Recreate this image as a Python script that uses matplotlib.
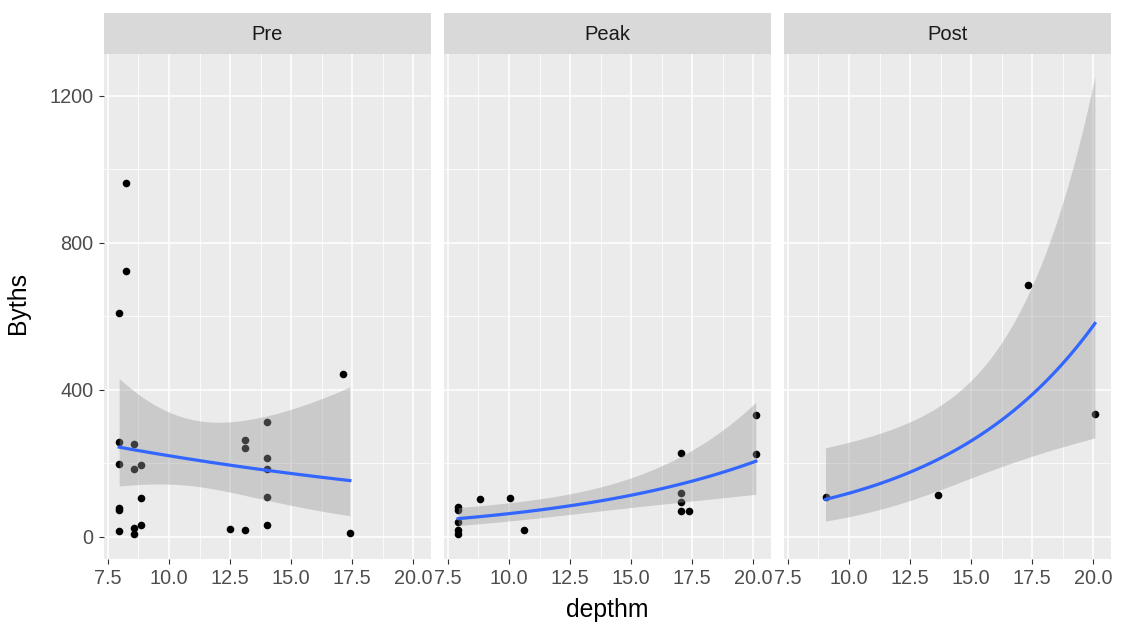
import math
import numpy as np
import matplotlib.pyplot as plt

plt.rcParams['font.family'] = ['Liberation Sans', 'DejaVu Sans']

periods = ["Pre", "Peak", "Post"]

pre_depth = [8.25, 8.25, 7.96, 17.1, 7.96, 8.58, 13.1, 13.1, 14.03, 14.03, 14.03,
             7.96, 8.58, 8.86, 8.86, 14.03, 7.96, 7.96, 7.96, 8.58, 8.58, 8.86,
             12.5, 13.1, 14.03, 17.4]
pre_byths = [962, 723, 609, 443, 258, 253, 264, 241, 312, 214, 185,
             199, 184, 196, 105, 108, 78, 72, 15, 24, 7, 31,
             21, 19, 31, 10]

peak_depth = [7.92, 7.92, 7.92, 7.92, 7.92, 8.82, 10.05, 10.63, 17.02, 17.02,
              17.02, 17.02, 17.35, 20.1, 20.1]
peak_byths = [81, 72, 40, 17, 8, 103, 105, 18, 228, 119, 94, 70, 70, 331, 225]

post_depth = [9.04, 13.66, 17.31, 20.06]
post_byths = [108, 113, 685, 334]

data = {"Pre": (pre_depth, pre_byths),
        "Peak": (peak_depth, peak_byths),
        "Post": (post_depth, post_byths)}


def irls(X, y, theta, beta):
    for _ in range(200):
        eta = X @ beta
        mu = np.exp(eta)
        w = mu / (1 + mu / theta)
        z = eta + (y - mu) / mu
        XtW = X.T * w
        new = np.linalg.solve(XtW @ X, XtW @ z)
        if np.max(np.abs(new - beta)) < 1e-10:
            return new
        beta = new
    return beta


def nb_loglik(y, mu, theta):
    return sum(math.lgamma(theta + yi) - math.lgamma(theta) - math.lgamma(yi + 1)
               + theta * math.log(theta) + yi * math.log(m)
               - (theta + yi) * math.log(theta + m) for yi, m in zip(y, mu))


def theta_ml(y, mu):
    # golden section search on log(theta)
    a, b = -6.0, 12.0
    g = (math.sqrt(5) - 1) / 2
    c, d = b - g * (b - a), a + g * (b - a)
    for _ in range(120):
        if nb_loglik(y, mu, math.exp(c)) > nb_loglik(y, mu, math.exp(d)):
            b = d
        else:
            a = c
        c, d = b - g * (b - a), a + g * (b - a)
    return math.exp((a + b) / 2)


def nb_smooth(x, y, n_out=80):
    # negative binomial glm with log link, as in geom_smooth(method = glm.nb)
    x = np.asarray(x, float)
    y = np.asarray(y, float)
    X = np.column_stack([np.ones_like(x), x])
    beta = np.array([np.log(y.mean()), 0.0])
    theta = 1.0
    for _ in range(50):
        beta = irls(X, y, theta, beta)
        mu = np.exp(X @ beta)
        new_theta = theta_ml(y, mu)
        if abs(new_theta - theta) < 1e-7:
            theta = new_theta
            break
        theta = new_theta
    beta = irls(X, y, theta, beta)
    mu = np.exp(X @ beta)
    w = mu / (1 + mu / theta)
    cov = np.linalg.inv((X.T * w) @ X)
    xs = np.linspace(x.min(), x.max(), n_out)
    Xs = np.column_stack([np.ones_like(xs), xs])
    eta = Xs @ beta
    se = np.sqrt(np.einsum('ij,jk,ik->i', Xs, cov, Xs))
    return xs, np.exp(eta), np.exp(eta - 1.96 * se), np.exp(eta + 1.96 * se)


W, H = 1124, 635
fig = plt.figure(figsize=(W / 100, H / 100), dpi=100)

panel_lefts = [104, 444, 784]
panel_w = 327
panel_top, panel_bot = 54, 559
strip_top = 13

for i, p in enumerate(periods):
    l = panel_lefts[i]
    ax = fig.add_axes([l / W, 1 - panel_bot / H, panel_w / W, (panel_bot - panel_top) / H])
    ax.set_facecolor('#EBEBEB')
    for s in ax.spines.values():
        s.set_visible(False)
    ax.set_xlim(7.34, 20.72)
    ax.set_ylim(-60.7, 1313)
    ax.set_xticks([7.5, 10, 12.5, 15, 17.5, 20])
    ax.set_xticklabels(['7.5', '10.0', '12.5', '15.0', '17.5', '20.0'])
    ax.set_xticks([8.75, 11.25, 13.75, 16.25, 18.75], minor=True)
    ax.set_yticks([0, 400, 800, 1200])
    ax.set_yticks([200, 600, 1000], minor=True)
    ax.grid(which='major', color='white', linewidth=1.1)
    ax.grid(which='minor', color='white', linewidth=0.55)
    ax.set_axisbelow(True)
    ax.tick_params(which='major', length=3.6, width=0.8, color='#333333',
                   labelcolor='#4D4D4D', labelsize=14.3)
    ax.tick_params(axis='x', pad=3.3)
    ax.tick_params(axis='y', pad=4.2)
    ax.tick_params(which='minor', length=0)
    if i > 0:
        ax.tick_params(axis='y', which='both', left=False, labelleft=False)

    x, y = data[p]
    xs, fit, lo, hi = nb_smooth(x, y)
    ax.scatter(x, y, s=30, color='black', linewidths=0, zorder=2)
    ax.fill_between(xs, lo, hi, color='#999999', alpha=0.4, linewidth=0, zorder=3)
    ax.plot(xs, fit, color='#3366FF', linewidth=2.3, zorder=4)

    sax = fig.add_axes([l / W, 1 - panel_top / H, panel_w / W, (panel_top - strip_top) / H])
    sax.set_facecolor('#D9D9D9')
    sax.set_xticks([])
    sax.set_yticks([])
    for s in sax.spines.values():
        s.set_visible(False)
    sax.text(0.5, 0.47, p, ha='center', va='center', fontsize=14.5, color='#1A1A1A',
             transform=sax.transAxes)

fig.text(607 / W, 1 - 617 / H, 'depthm', ha='center', va='baseline',
         fontsize=17.8, color='black')
fig.text(25.5 / W, 1 - 302.5 / H, 'Byths', ha='center', va='baseline', rotation=90,
         rotation_mode='anchor', fontsize=17.8, color='black')

fig.savefig('out.png', dpi=100)
